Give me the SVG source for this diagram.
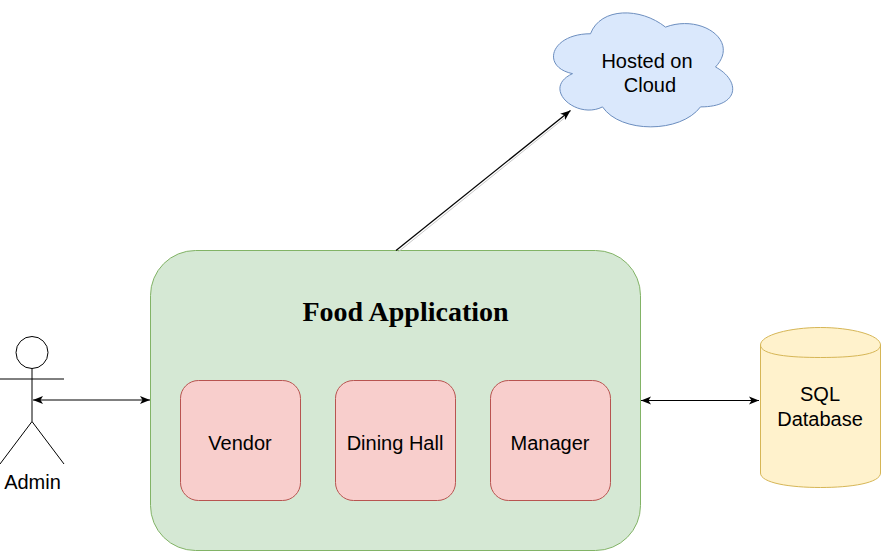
<svg xmlns="http://www.w3.org/2000/svg" width="881" height="551" viewBox="0 0 881 551">
<style>
text{font-family:"Liberation Sans",Arial,sans-serif;font-size:20px;fill:#000;text-anchor:middle}
.title{font-family:"Liberation Serif","Times New Roman",serif;font-size:28px;font-weight:bold}
.inner{fill:#f8cecc;stroke:#b85450;stroke-width:1}
.line{fill:none;stroke:#000;stroke-width:1}
.link{fill:none;stroke:#000;stroke-width:1;marker-start:url(#back);marker-end:url(#head)}
</style>
<defs>
<marker id="head" markerUnits="userSpaceOnUse" markerWidth="12" markerHeight="10" refX="10" refY="5" orient="auto"><path d="M0,1 L10,5 L0,9 L2.500,5 Z" fill="#000"/></marker>
<marker id="back" markerUnits="userSpaceOnUse" markerWidth="12" markerHeight="10" refX="0" refY="5" orient="auto"><path d="M10,1 L0,5 L10,9 L7.500,5 Z" fill="#000"/></marker>
</defs>
<g id="cloud">
<path transform="translate(0.500 0.500)" d="M590,33.250 C550,33.250 540,66.500 572,73.150 C540,87.800 576,119.700 602,106.400 C620,133 680,133 700,106.400 C740,106.400 740,79.800 715,66.500 C740,39.900 700,13.300 665,26.600 C640,6.650 600,6.650 590,33.250 Z" fill="#dae8fc" stroke="#6c8ebf"/>
<text x="647" y="68">Hosted on</text>
<text x="650" y="92">Cloud</text>
</g>
<g id="food-application">
<rect x="150.500" y="250.500" width="490" height="300" rx="45" ry="45" fill="#d5e8d4" stroke="#82b366"/>
<text class="title" x="405.500" y="321">Food Application</text>
</g>
<g id="vendor">
<rect class="inner" x="180.500" y="380.500" width="120" height="120" rx="18" ry="18"/>
<text x="240" y="450">Vendor</text>
</g>
<g id="dining-hall">
<rect class="inner" x="335.500" y="380.500" width="120" height="120" rx="18" ry="18"/>
<text x="395" y="450">Dining Hall</text>
</g>
<g id="manager">
<rect class="inner" x="490.500" y="380.500" width="120" height="120" rx="18" ry="18"/>
<text x="550" y="450">Manager</text>
</g>
<g id="admin">
<circle class="line" cx="32" cy="352.500" r="16"/>
<path class="line" d="M32,368.500 V421.500 M0,379 H64 M0,464 L32,421.500 L64,464"/>
<text x="32.500" y="489">Admin</text>
</g>
<g id="database">
<path d="M760.500,345 C760.500,335 790,327.500 820.500,327.500 C851,327.500 880.500,335 880.500,345 V473 C880.500,483 851,487.500 820.500,487.500 C790,487.500 760.500,483 760.500,473 Z" fill="#fff2cc" stroke="#d6b656"/>
<path d="M760.500,345 C760.500,355 790,357.500 820.500,357.500 C851,357.500 880.500,355 880.500,345" fill="none" stroke="#d6b656"/>
<text x="820" y="401">SQL</text>
<text x="820" y="426">Database</text>
</g>
<g id="connectors">
<path d="M398,252 L567,116" fill="none" stroke="#c8c8c8" stroke-width="1"/>
<path d="M396,250.500 L570.500,110.500" fill="none" stroke="#000" stroke-width="1.200" marker-end="url(#head)"/>
<path class="link" d="M33,400 H150"/>
<path class="link" d="M641,400.500 H759"/>
</g>
</svg>
